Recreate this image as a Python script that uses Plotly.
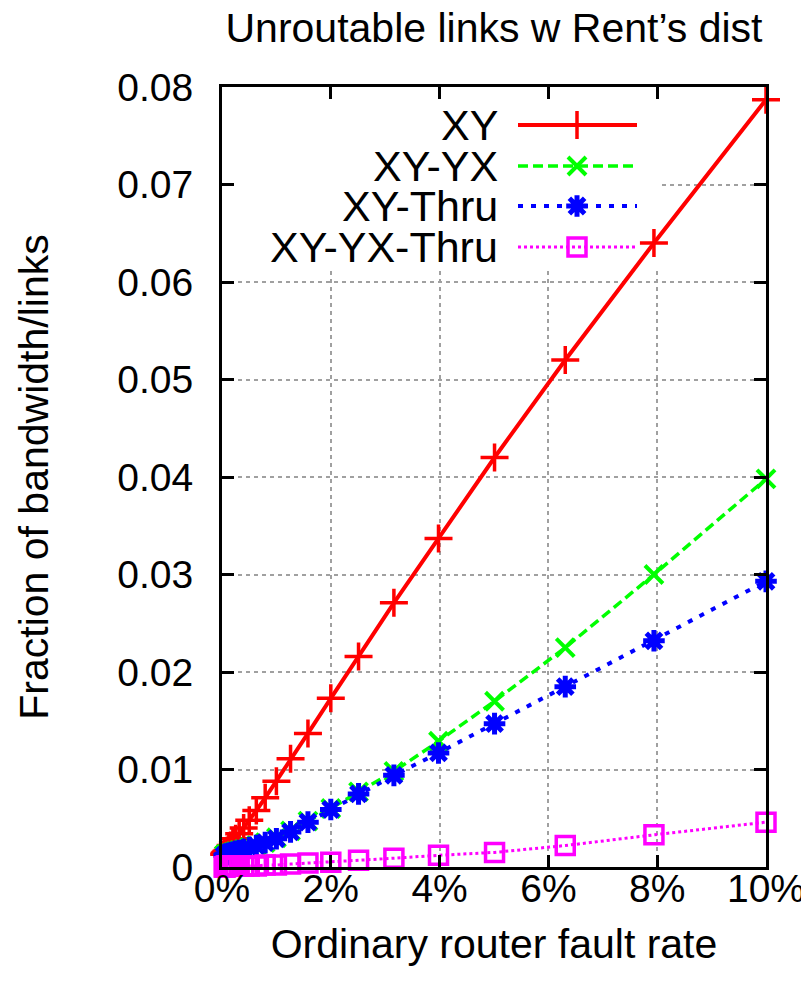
import plotly.graph_objects as go

# ---------------- data ----------------
fault_rate_pct = [0.0398, 0.0501, 0.0631, 0.0794, 0.1, 0.126, 0.158, 0.2, 0.251, 0.316,
                  0.398, 0.501, 0.631, 0.794, 1.0, 1.26, 1.58, 2.0, 2.51, 3.16,
                  3.98, 5.01, 6.31, 7.94, 10.0]

xy = [0.0013, 0.0014, 0.0015, 0.0016, 0.0017, 0.0019, 0.0022, 0.0025, 0.0029, 0.0034,
      0.0040, 0.0048, 0.0058, 0.0071, 0.0088, 0.0111, 0.0137, 0.0173, 0.0216, 0.0271,
      0.0337, 0.0420, 0.0520, 0.0640, 0.0787]

xy_yx = [0.0012, 0.0012, 0.0013, 0.0013, 0.0013, 0.0014, 0.0014, 0.0015, 0.0016, 0.0017,
         0.0018, 0.0020, 0.0022, 0.0025, 0.0030, 0.0037, 0.0047, 0.0060, 0.0077, 0.0098,
         0.0129, 0.0170, 0.0225, 0.0300, 0.0398]

xy_thru = [0.0012, 0.0012, 0.0013, 0.0013, 0.0013, 0.0014, 0.0014, 0.0015, 0.0016, 0.0017,
           0.0018, 0.0020, 0.0022, 0.0025, 0.0029, 0.0036, 0.0046, 0.0059, 0.0075, 0.0094,
           0.0117, 0.0147, 0.0185, 0.0232, 0.0293]

xy_yx_thru = [0.0000, 0.0000, 0.0000, 0.0001, 0.0001, 0.0001, 0.0001, 0.0001, 0.0001, 0.0001,
              0.0001, 0.0001, 0.0001, 0.0002, 0.0002, 0.0003, 0.0004, 0.0005, 0.0007, 0.0009,
              0.0012, 0.0015, 0.0022, 0.0033, 0.0046]

series_names = ["XY", "XY-YX", "XY-Thru", "XY-YX-Thru"]
series_values = [xy, xy_yx, xy_thru, xy_yx_thru]

x_tick_vals = [0, 2, 4, 6, 8, 10]
x_tick_text = ["0%", "2%", "4%", "6%", "8%", "10%"]
y_tick_vals = [0, 0.01, 0.02, 0.03, 0.04, 0.05, 0.06, 0.07, 0.08]
y_tick_text = ["0", "0.01", "0.02", "0.03", "0.04", "0.05", "0.06", "0.07", "0.08"]

title_text = "Unroutable links w Rent\u2019s dist"
x_title = "Ordinary router fault rate"
y_title = "Fraction of bandwidth/links"

# ---------------- styles ----------------
colors = ["#ff0000", "#00ff00", "#0000ff", "#ff00ff"]
dashes = ["solid", "10px,5px", "5px,8px", "3px,3px"]
line_widths = [4, 3.5, 4, 3]
symbols = ["cross-thin-open", "x-thin-open", "asterisk-open", "square-open"]
marker_sizes = [20, 18, 18, 18]
marker_lw = [3.5, 4, 5, 3.5]

FONT = "Liberation Sans, Arial, Helvetica, sans-serif"
FS = 39
FS_TITLE = 41
FS_KEY = 43

# page geometry: the html body has an 8px margin, so the figure is laid out
# in reference-pixel space shifted by that margin
PAGE_W, PAGE_H, BODY_M = 809, 990, 8
W, H = PAGE_W - BODY_M, PAGE_H - 2 * BODY_M
PX_L, PX_R, PX_T, PX_B = 222, 766, 87, 867   # plot area in reference pixels
X_MAX, Y_MAX = 10.0, 0.08


def px_x(p):
    return (p - PX_L) / (PX_R - PX_L) * X_MAX


def px_y(p):
    return (PX_B - p) / (PX_B - PX_T) * Y_MAX


fig = go.Figure()

for name, vals, c, d, lw, sym, ms, mlw in zip(series_names, series_values, colors, dashes,
                                              line_widths, symbols, marker_sizes, marker_lw):
    fig.add_trace(go.Scatter(
        x=fault_rate_pct, y=vals, name=name, mode="lines+markers",
        line=dict(color=c, width=lw, dash=d),
        marker=dict(symbol=sym, size=ms, color=c, line=dict(color=c, width=mlw)),
        cliponaxis=False, showlegend=False,
    ))

# ---------------- gnuplot-style key (text, then sample) ----------------
leg_rows = [125, 166, 206, 247]
leg_text_right = 499
leg_line = (518, 577, 637)

fig.add_shape(type="rect", xref="x", yref="y", layer="between",
              x0=px_x(PX_L + 2), x1=px_x(660), y0=px_y(268), y1=px_y(PX_T + 2),
              fillcolor="white", line=dict(width=0))

for name, row, c, d, lw, sym, ms, mlw in zip(series_names, leg_rows, colors, dashes,
                                             line_widths, symbols, marker_sizes, marker_lw):
    fig.add_trace(go.Scatter(
        x=[px_x(leg_line[0]), px_x(leg_line[2])], y=[px_y(row), px_y(row)],
        mode="lines", line=dict(color=c, width=lw, dash=d),
        showlegend=False, hoverinfo="skip", cliponaxis=False,
    ))
    fig.add_trace(go.Scatter(
        x=[px_x(leg_line[1])], y=[px_y(row)], mode="markers",
        marker=dict(symbol=sym, size=ms, color=c, line=dict(color=c, width=mlw)),
        showlegend=False, hoverinfo="skip", cliponaxis=False,
    ))
    fig.add_annotation(x=px_x(leg_text_right), y=px_y(row), xref="x", yref="y",
                       text=name, showarrow=False, xanchor="right", yanchor="middle",
                       borderpad=0,
                       font=dict(family=FONT, size=FS_KEY, color="black"))

axis_common = dict(
    showline=True, linecolor="black", linewidth=3, mirror="allticks",
    ticks="inside", ticklen=12, tickwidth=3, tickcolor="black",
    showgrid=True, gridcolor="#a0a0a0", gridwidth=1.5, griddash="4px,4px",
    zeroline=False, automargin=False,
    tickfont=dict(family=FONT, size=FS, color="black"),
)

fig.update_layout(
    width=W, height=H,
    margin=dict(l=PX_L - BODY_M, r=W - (PX_R - BODY_M), t=PX_T - BODY_M,
                b=H - (PX_B - BODY_M), pad=0, autoexpand=False),
    paper_bgcolor="white", plot_bgcolor="white",
    font=dict(family=FONT, size=FS, color="black"),
    title=dict(text=title_text, x=0.5, xref="paper", xanchor="center",
               y=1 - 5 / H, yref="container", yanchor="top", automargin=False,
               pad=dict(t=0, b=0, l=0, r=0),
               font=dict(family=FONT, size=FS_TITLE, color="black")),
    xaxis=dict(range=[0, X_MAX], tickvals=x_tick_vals, ticktext=x_tick_text,
               title=dict(text=x_title, standoff=21, font=dict(family=FONT, size=FS_TITLE)),
               ticklabelstandoff=-15, **axis_common),
    yaxis=dict(range=[0, Y_MAX], tickvals=y_tick_vals, ticktext=y_tick_text,
               title=dict(text=y_title, standoff=56, font=dict(family=FONT, size=FS_TITLE)),
               ticklabelstandoff=18, **axis_common),
)

fig.write_html("out.html")
